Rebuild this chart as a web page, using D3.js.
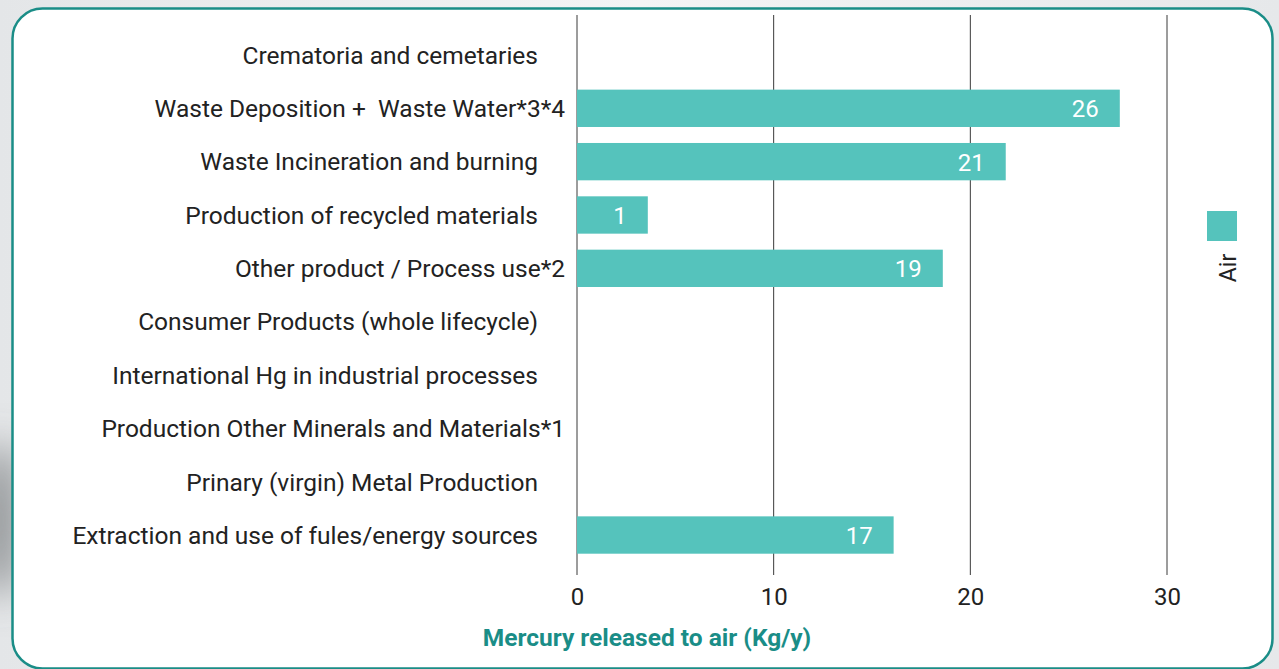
<!DOCTYPE html>
<html>
<head>
<meta charset="utf-8">
<script src="https://cdn.jsdelivr.net/npm/d3@7"></script>
<style>
  html, body { margin: 0; padding: 0; background: #eceeef; }
  svg { display: block; font-family: Roboto, "Noto Sans", sans-serif; }
</style>
</head>
<body>
<div id="chart"></div>
<script>
const categories = [
  "Crematoria and cemetaries",
  "Waste Deposition +  Waste Water*3*4",
  "Waste Incineration and burning",
  "Production of recycled materials",
  "Other product / Process use*2",
  "Consumer Products (whole lifecycle)",
  "International Hg in industrial processes",
  "Production Other Minerals and Materials*1",
  "Prinary (virgin) Metal Production",
  "Extraction and use of fules/energy sources"
];
const airValues = [0, 27.6, 21.8, 3.6, 18.6, 0, 0, 0, 0, 16.1];
const airLabels = ["", "26", "21", "1", "19", "", "", "", "", "17"];
const xTicks = [0, 10, 20, 30];
const seriesName = "Air";
const axisTitle = "Mercury released to air (Kg/y)";

const W = 1279, H = 669;
const barColor = "#55c3bc";
const teal = "#1a8d87";

const svg = d3.select("#chart").append("svg").attr("width", W).attr("height", H);

// background shading
const defs = svg.append("defs");
const blur = defs.append("filter").attr("id", "blur").attr("x", "-50%").attr("y", "-50%").attr("width", "200%").attr("height", "200%");
blur.append("feGaussianBlur").attr("stdDeviation", 18);
const bg = defs.append("linearGradient").attr("id", "bg").attr("x1", 0).attr("x2", 1);
bg.append("stop").attr("offset", 0).attr("stop-color", "#e4e6e8");
bg.append("stop").attr("offset", 0.5).attr("stop-color", "#f3f4f5");
bg.append("stop").attr("offset", 1).attr("stop-color", "#e6e8ea");
svg.append("rect").attr("width", W).attr("height", H).attr("fill", "url(#bg)");
svg.append("ellipse").attr("cx", 0).attr("cy", 520).attr("rx", 14).attr("ry", 80)
  .attr("fill", "#6e7275").attr("filter", "url(#blur)");

// panel
svg.append("rect")
  .attr("x", 12.5).attr("y", 8.5).attr("width", 1260).attr("height", 660)
  .attr("rx", 30).attr("ry", 30)
  .attr("fill", "#fff").attr("stroke", teal).attr("stroke-width", 2.5);

const x = d3.scaleLinear().domain([0, 30]).range([577, 1167]);
const y = d3.scaleBand().domain(categories).range([28.3, 561.7]).paddingInner(0.3).paddingOuter(0.15);

// grid lines
svg.append("g").selectAll("line").data(xTicks).join("line")
  .attr("x1", d => x(d)).attr("x2", d => x(d))
  .attr("y1", 15).attr("y2", 575)
  .attr("stroke", "#3a3a3a").attr("stroke-width", 1);

// bars
svg.append("g").selectAll("rect").data(categories).join("rect")
  .attr("x", x(0))
  .attr("y", d => y(d))
  .attr("width", (d, i) => x(airValues[i]) - x(0))
  .attr("height", y.bandwidth())
  .attr("fill", barColor);

// value labels
svg.append("g").selectAll("text").data(categories).join("text")
  .attr("x", (d, i) => x(airValues[i]) - 21)
  .attr("y", d => y(d) + y.bandwidth() / 2)
  .attr("dy", "0.38em")
  .attr("text-anchor", "end")
  .attr("fill", "#fff")
  .attr("font-size", 24)
  .text((d, i) => airLabels[i]);

// category labels (footnoted ones run a little further right)
const yAxis = svg.append("g")
  .attr("transform", `translate(${x(0)},0)`)
  .call(d3.axisLeft(y).tickSize(0).tickPadding(0));
yAxis.select(".domain").remove();
yAxis.selectAll(".tick text")
  .attr("x", d => d.includes("*") ? -12 : -39)
  .attr("dy", "0.36em")
  .attr("font-size", 24.5)
  .attr("font-family", "Roboto, sans-serif")
  .attr("fill", "#222")
  .style("white-space", "pre");

// x axis
const xAxis = svg.append("g")
  .attr("transform", "translate(0,575)")
  .call(d3.axisBottom(x).tickValues(xTicks).tickSize(0).tickPadding(13));
xAxis.select(".domain").remove();
xAxis.selectAll(".tick text")
  .attr("font-size", 24)
  .attr("font-family", "Roboto, sans-serif")
  .attr("fill", "#222");

svg.append("text")
  .attr("x", 647).attr("y", 646)
  .attr("text-anchor", "middle")
  .attr("font-size", 24.5)
  .attr("font-weight", 700)
  .attr("fill", teal)
  .text(axisTitle);

// legend
svg.append("rect").attr("x", 1207).attr("y", 211).attr("width", 30).attr("height", 30).attr("fill", barColor);
svg.append("text")
  .attr("transform", "translate(1236,268) rotate(-90)")
  .attr("text-anchor", "middle")
  .attr("font-size", 23)
  .attr("fill", "#222")
  .text(seriesName);
</script>
</body>
</html>
